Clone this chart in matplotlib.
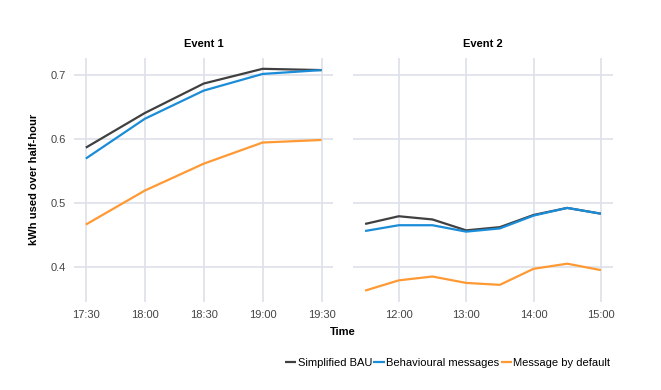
import matplotlib
matplotlib.use('Agg')
import matplotlib.pyplot as plt
import numpy as np

# Event 1 (evening), half-hourly
times1 = ['17:30', '18:00', '18:30', '19:00', '19:30']
bau1 = [0.586, 0.640, 0.686, 0.709, 0.707]
beh1 = [0.569, 0.631, 0.675, 0.701, 0.707]
dflt1 = [0.466, 0.519, 0.561, 0.594, 0.598]

# Event 2 (midday), half-hourly
times2 = ['11:30', '12:00', '12:30', '13:00', '13:30', '14:00', '14:30', '15:00']
bau2 = [0.467, 0.479, 0.474, 0.457, 0.462, 0.481, 0.492, 0.483]
beh2 = [0.456, 0.465, 0.465, 0.455, 0.460, 0.480, 0.492, 0.483]
dflt2 = [0.363, 0.379, 0.385, 0.375, 0.372, 0.397, 0.405, 0.395]

ticks1 = ['17:30', '18:00', '18:30', '19:00', '19:30']
ticks2 = ['12:00', '13:00', '14:00', '15:00']
yticks = [0.4, 0.5, 0.6, 0.7]

series_names = ['Simplified BAU', 'Behavioural messages', 'Message by default']
colors = ['#404040', '#1a8cd8', '#ff9933']


def hours(ts):
    return np.array([int(t.split(':')[0]) + int(t.split(':')[1]) / 60 for t in ts])


plt.rcParams['font.family'] = ['Liberation Sans', 'DejaVu Sans']
fig = plt.figure(figsize=(6.61, 3.90), dpi=100)
ax1 = fig.add_axes([0.112, 0.2264, 0.3923, 0.6256])
ax2 = fig.add_axes([0.5345, 0.2264, 0.3924, 0.6256], sharey=ax1)

panels = [
    (ax1, times1, [bau1, beh1, dflt1], ticks1, 'Event 1'),
    (ax2, times2, [bau2, beh2, dflt2], ticks2, 'Event 2'),
]

all_vals = bau1 + beh1 + dflt1 + bau2 + beh2 + dflt2
lo, hi = min(all_vals), max(all_vals)
pad = (hi - lo) * 0.05

for ax, ts, vals, tks, title in panels:
    x = hours(ts)
    for v, c, name in zip(vals, colors, series_names):
        ax.plot(x, v, color=c, lw=1.6, label=name, solid_capstyle='butt')
    xr = x.max() - x.min()
    ax.set_xlim(x.min() - 0.05 * xr, x.max() + 0.05 * xr)
    ax.set_xticks(hours(tks))
    ax.set_xticklabels(tks)
    ax.set_yticks(yticks)
    ax.set_ylim(lo - pad, hi + pad)
    ax.grid(True, color='#dde2e9', lw=1.2)
    ax.set_axisbelow(True)
    for s in ax.spines.values():
        s.set_visible(False)
    ax.tick_params(length=0, labelsize=8, colors='#444444', pad=6)
    ax.set_title(title, fontsize=8, fontweight='bold', pad=8)

ax1.set_yticklabels([f'{v:.1f}' for v in yticks])
ax2.tick_params(labelleft=False)
ax1.set_ylabel('kWh used over half-hour', fontsize=8, fontweight='bold', labelpad=8)

fig.text(0.519, 0.148, 'Time', fontsize=8, fontweight='bold', ha='center', va='center')

handles, labels = ax1.get_legend_handles_labels()
fig.legend(handles, labels, loc='center right', bbox_to_anchor=(0.93, 0.069),
           ncol=3, frameon=False, fontsize=8, handlelength=1.0,
           handletextpad=0.15, columnspacing=0.1, borderaxespad=0)

fig.savefig('out.png', dpi=100)
